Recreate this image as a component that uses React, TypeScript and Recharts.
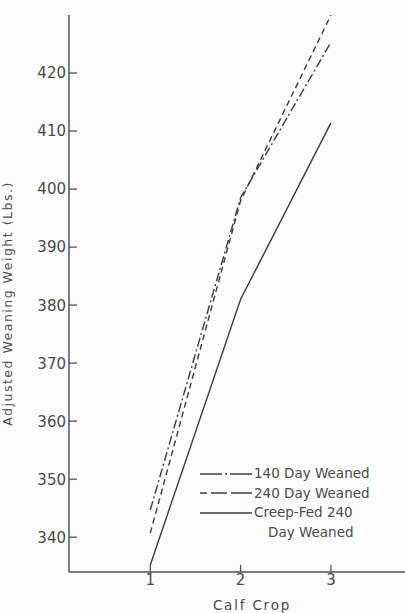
import React from 'react';
import { LineChart, Line, XAxis, YAxis, Legend } from 'recharts';

const calfCrop = [1, 2, 3];
const weaned140 = [344.7, 398.5, 425.3];
const weaned240 = [340.7, 398, 430];
const creepFed240 = [335.2, 381, 411.4];
const yTicks = [340, 350, 360, 370, 380, 390, 400, 410, 420];
const xTicks = [1, 2, 3];
const legendLabels = ['140 Day Weaned', '240 Day Weaned', 'Creep-Fed 240', 'Day Weaned'];
const yAxisTitle = 'Adjusted Weaning Weight (Lbs.)';
const xAxisTitle = 'Calf Crop';

const data = calfCrop.map((c, i) => ({
  crop: c,
  w140: weaned140[i],
  w240: weaned240[i],
  creep: creepFed240[i],
}));

const FONT = '"DejaVu Sans", sans-serif';
const INK = '#3c3c3c';
const TEXT = '#4a4a4a';
const AXIS = '#505058';

const YTick = (props: any) => {
  const { x, y, payload } = props;
  const ax = x + 3;
  return (
    <g>
      <line x1={ax} y1={y} x2={ax + 8} y2={y} stroke={AXIS} strokeWidth={1.3} />
      <text x={x} y={y} dy="0.36em" textAnchor="end" fontFamily={FONT} fontSize={15} fill={TEXT}>
        {payload.value}
      </text>
    </g>
  );
};

const XTick = (props: any) => {
  const { x, y, payload } = props;
  const ay = y - 2;
  return (
    <g>
      <line x1={x} y1={ay} x2={x} y2={ay - 7} stroke={AXIS} strokeWidth={1.3} />
      <text x={x} y={y} dy="0.71em" textAnchor="middle" fontFamily={FONT} fontSize={15} fill={TEXT}>
        {payload.value}
      </text>
    </g>
  );
};

const YTitle = (props: any) => {
  const { viewBox } = props;
  const cx = viewBox.x + 7;
  const cy = viewBox.y + viewBox.height / 2 + 10;
  return (
    <text
      x={cx}
      y={cy}
      transform={`rotate(-90 ${cx} ${cy})`}
      textAnchor="middle"
      dominantBaseline="central"
      fontFamily={FONT}
      fontSize={12.5}
      letterSpacing={1.5}
      fill={TEXT}
    >
      {yAxisTitle}
    </text>
  );
};

const XTitle = (props: any) => {
  const { viewBox } = props;
  const cx = viewBox.x + viewBox.width / 2 + 15;
  const cy = viewBox.y + 33;
  return (
    <text
      x={cx}
      y={cy}
      textAnchor="middle"
      dominantBaseline="central"
      fontFamily={FONT}
      fontSize={13.5}
      letterSpacing={1.8}
      fill={TEXT}
    >
      {xAxisTitle}
    </text>
  );
};

const swatchDash = ['22 3 2 3 40', '7 4 16 4 40', undefined];

const LegendContent = () => (
  <div style={{ fontFamily: FONT, fontSize: 13.5, color: TEXT, lineHeight: '19.5px' }}>
    {legendLabels.slice(0, 3).map((label, i) => (
      <div key={label} style={{ display: 'flex', alignItems: 'center', height: 19.5, whiteSpace: 'nowrap' }}>
        <svg width={54} height={6} style={{ display: 'block' }}>
          <line x1={0} y1={3} x2={52} y2={3} stroke={INK} strokeWidth={1.4} strokeDasharray={swatchDash[i]} />
        </svg>
        <span>{label}</span>
      </div>
    ))}
    <div style={{ height: 19.5, paddingLeft: 68, whiteSpace: 'nowrap' }}>{legendLabels[3]}</div>
  </div>
);

export default function App() {
  return (
    <div style={{ position: 'absolute', left: 0, top: 0, width: 405, height: 613, background: '#fcfcfc' }}>
      <LineChart width={405} height={613} data={data} margin={{ top: 15, right: 0, bottom: 0, left: 0 }}>
        <XAxis
          dataKey="crop"
          type="number"
          domain={[0.1, 3.82]}
          ticks={xTicks}
          allowDataOverflow
          height={41}
          tickSize={0}
          tickMargin={2}
          tick={<XTick />}
          axisLine={{ stroke: AXIS, strokeWidth: 1.5 }}
          label={<XTitle />}
        />
        <YAxis
          type="number"
          domain={[334, 430]}
          ticks={yTicks}
          allowDataOverflow
          width={69}
          tickSize={0}
          tickMargin={3}
          tick={<YTick />}
          axisLine={{ stroke: AXIS, strokeWidth: 1.5 }}
          label={<YTitle />}
        />
        <Legend
          layout="horizontal"
          verticalAlign="middle"
          align="center"
          content={<LegendContent />}
          wrapperStyle={{ position: 'absolute', left: 200, top: 464, width: 205 }}
        />
        <Line type="linear" dataKey="w140" name={legendLabels[0]} stroke={INK} strokeWidth={1.4} strokeDasharray="9 3 2 3" dot={false} isAnimationActive={false} />
        <Line type="linear" dataKey="w240" name={legendLabels[1]} stroke={INK} strokeWidth={1.4} strokeDasharray="6 4" dot={false} isAnimationActive={false} />
        <Line type="linear" dataKey="creep" name={legendLabels[2]} stroke={INK} strokeWidth={1.4} dot={false} isAnimationActive={false} />
      </LineChart>
    </div>
  );
}
